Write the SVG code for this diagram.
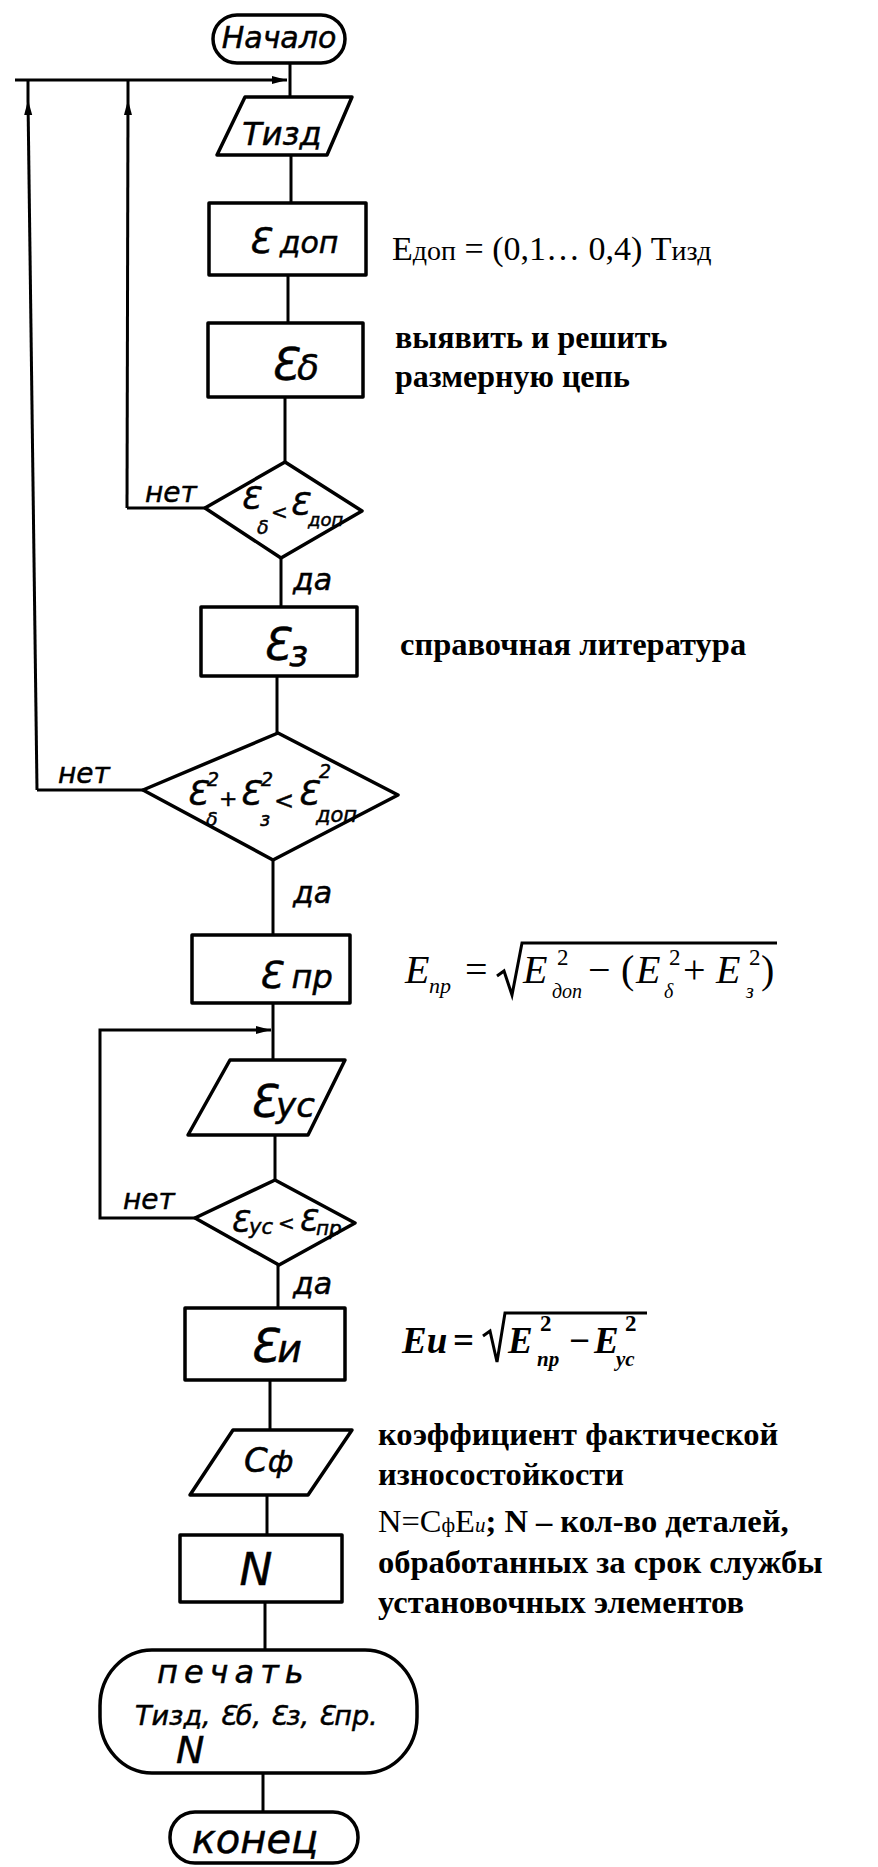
<svg xmlns="http://www.w3.org/2000/svg" width="878" height="1867" viewBox="0 0 878 1867">
<style>
.ln{stroke:#000;stroke-width:3;fill:none}
.sh{stroke:#000;stroke-width:3.5;fill:#fff;stroke-linejoin:round}
.hw{font-family:"DejaVu Sans","Liberation Sans",sans-serif;font-style:italic;fill:#000;stroke:#000;stroke-width:0.5}
.sr{font-family:"Liberation Serif","Times New Roman",serif;fill:#000}
.b{font-weight:bold}
.it{font-style:italic}
.up{font-style:normal}
</style>
<defs>
<marker id="ah" markerWidth="16" markerHeight="10" refX="15" refY="5" orient="auto" markerUnits="userSpaceOnUse"><path d="M0,1 L15,5 L0,9 z" fill="#000"/></marker>
</defs>
<rect width="878" height="1867" fill="#fff"/>

<g id="connectors">
<path class="ln" d="M290,63 V97"/>
<path class="ln" d="M15,80 H287" marker-end="url(#ah)"/>
<path class="ln" d="M37,790 L28,100" marker-end="url(#ah)"/>
<path class="ln" d="M28,100 V80"/>
<path class="ln" d="M127,508 L128,100" marker-end="url(#ah)"/>
<path class="ln" d="M128,100 V80"/>
<path class="ln" d="M205,508 H127"/>
<path class="ln" d="M143,790 H37"/>
<path class="ln" d="M291,155 V203"/>
<path class="ln" d="M288,275 V323"/>
<path class="ln" d="M285,397 V462"/>
<path class="ln" d="M281,558 V607"/>
<path class="ln" d="M277,676 V733"/>
<path class="ln" d="M273,860 V935"/>
<path class="ln" d="M273,1003 V1060"/>
<path class="ln" d="M195,1218 H100 V1030 H271" marker-end="url(#ah)"/>
<path class="ln" d="M275,1135 V1180"/>
<path class="ln" d="M278,1265 V1308"/>
<path class="ln" d="M270,1380 V1430"/>
<path class="ln" d="M267,1495 V1535"/>
<path class="ln" d="M265,1602 V1650"/>
<path class="ln" d="M263,1773 V1812"/>
</g>

<g id="labels">
<text class="hw" font-size="28" x="145" y="502">нет</text>
<text class="hw" font-size="28" x="58" y="783">нет</text>
<text class="hw" font-size="28" x="123" y="1209">нет</text>
<text class="hw" font-size="30" x="293" y="590">да</text>
<text class="hw" font-size="30" x="293" y="903">да</text>
<text class="hw" font-size="30" x="293" y="1294">да</text>
</g>

<g id="n-start">
<rect class="sh" x="213" y="15" width="132" height="48" rx="24"/>
<text class="hw" font-size="30" x="279" y="48" text-anchor="middle">Начало</text>
</g>

<g id="n-tizd">
<polygon class="sh" points="245,97 352,97 327,155 217,155"/>
<text class="hw" font-size="32" x="282" y="145" text-anchor="middle">Тизд</text>
</g>

<g id="n-edop">
<rect class="sh" x="209" y="203" width="157" height="72"/>
<text class="hw" x="248" y="253"><tspan font-size="36">Ɛ</tspan><tspan font-size="30"> доп</tspan></text>
</g>
<g id="t-edop">
<text class="sr" x="392" y="260" font-size="34">E<tspan font-size="28">доп</tspan> = (0,1… 0,4) T<tspan font-size="28">изд</tspan></text>
</g>

<g id="n-eb">
<rect class="sh" x="208" y="323" width="155" height="74"/>
<text class="hw" x="270" y="380"><tspan font-size="44">Ɛ</tspan><tspan font-size="36">δ</tspan></text>
</g>
<g id="t-eb">
<text class="sr b" font-size="32" x="395" y="348">выявить и решить</text>
<text class="sr b" font-size="32" x="395" y="387">размерную цепь</text>
</g>

<g id="d1">
<polygon class="sh" points="285,462 362,511 281,558 205,508"/>
<text class="hw" font-size="32"><tspan x="240" y="509">Ɛ</tspan><tspan x="257" y="534" font-size="19">δ</tspan><tspan x="271" y="519" font-size="20">&lt;</tspan><tspan x="289" y="515">Ɛ</tspan><tspan x="308" y="526" font-size="18">доп</tspan></text>
</g>

<g id="n-ez">
<rect class="sh" x="201" y="607" width="156" height="69"/>
<text class="hw" x="262" y="660"><tspan font-size="44">Ɛ</tspan><tspan font-size="36" dy="6">з</tspan></text>
</g>
<g id="t-ez">
<text class="sr b" font-size="32.5" x="400" y="655">справочная литература</text>
</g>

<g id="d2">
<polygon class="sh" points="278,733 398,795 273,860 143,790"/>
<text class="hw" font-size="34"><tspan x="186" y="805">Ɛ</tspan><tspan x="207" y="786" font-size="19">2</tspan><tspan x="206" y="826" font-size="19">δ</tspan><tspan x="219" y="806" font-size="22">+</tspan><tspan x="239" y="805">Ɛ</tspan><tspan x="261" y="786" font-size="19">2</tspan><tspan x="260" y="826" font-size="19">з</tspan><tspan x="274" y="809" font-size="24">&lt;</tspan><tspan x="297" y="805">Ɛ</tspan><tspan x="319" y="778" font-size="19">2</tspan><tspan x="316" y="822" font-size="21">доп</tspan></text>
</g>

<g id="n-enp">
<rect class="sh" x="192" y="935" width="158" height="68"/>
<text class="hw" x="258" y="988"><tspan font-size="38">Ɛ</tspan><tspan font-size="32"> пр</tspan></text>
</g>
<g id="t-enp">
<text class="sr it" font-size="40"><tspan x="405" y="983">E</tspan><tspan x="429" y="993" font-size="22">пр</tspan><tspan class="up" x="465" y="983">=</tspan><tspan x="523" y="983">E</tspan><tspan class="up" x="557" y="965" font-size="23">2</tspan><tspan x="552" y="998" font-size="20">доп</tspan><tspan class="up" x="588" y="983">−</tspan><tspan class="up" x="621" y="983">(</tspan><tspan x="636" y="983">E</tspan><tspan class="up" x="669" y="965" font-size="23">2</tspan><tspan x="664" y="998" font-size="20">δ</tspan><tspan class="up" x="683" y="983">+</tspan><tspan x="716" y="983">E</tspan><tspan class="up" x="749" y="965" font-size="23">2</tspan><tspan x="746" y="998" font-size="20">з</tspan><tspan class="up" x="761" y="983">)</tspan></text>
<path class="ln" stroke-width="2" d="M497,976 L504,971 L512,995 L522,943 H777"/>
</g>

<g id="n-eyc">
<polygon class="sh" points="230,1060 345,1060 308,1135 188,1135"/>
<text class="hw" x="249" y="1117"><tspan font-size="44">Ɛ</tspan><tspan font-size="34">ус</tspan></text>
</g>

<g id="d3">
<polygon class="sh" points="275,1180 355,1223 279,1265 195,1218"/>
<text class="hw" font-size="30"><tspan x="230" y="1232">Ɛ</tspan><tspan x="249" y="1234" font-size="21">ус</tspan><tspan x="278" y="1230" font-size="20">&lt;</tspan><tspan x="298" y="1231">Ɛ</tspan><tspan x="316" y="1235" font-size="20">пр</tspan></text>
</g>

<g id="n-eu">
<rect class="sh" x="185" y="1308" width="160" height="72"/>
<text class="hw" x="249" y="1362"><tspan font-size="46">Ɛ</tspan><tspan font-size="38">и</tspan></text>
</g>
<g id="t-eu">
<text class="sr it b" font-size="37"><tspan x="402" y="1353">Eu</tspan><tspan class="up" x="453" y="1353">=</tspan><tspan x="508" y="1353">E</tspan><tspan class="up" x="540" y="1331" font-size="23">2</tspan><tspan x="537" y="1366" font-size="21">пр</tspan><tspan class="up" x="569" y="1353">−</tspan><tspan x="594" y="1353">E</tspan><tspan class="up" x="625" y="1331" font-size="23">2</tspan><tspan x="616" y="1366" font-size="21">ус</tspan></text>
<path class="ln" stroke-width="2.5" d="M483,1336 L490,1331 L497,1362 L505,1313 H647"/>
</g>

<g id="n-cf">
<polygon class="sh" points="233,1430 352,1430 308,1495 190,1495"/>
<text class="hw" x="244" y="1472"><tspan font-size="34">С</tspan><tspan font-size="30">ф</tspan></text>
</g>
<g id="t-cf">
<text class="sr b" font-size="32.5" x="378" y="1445">коэффициент фактической</text>
<text class="sr b" font-size="32.5" x="378" y="1485">износостойкости</text>
</g>

<g id="n-n">
<rect class="sh" x="180" y="1535" width="162" height="67"/>
<text class="hw" font-size="44" x="256" y="1585" text-anchor="middle">N</text>
</g>
<g id="t-n">
<text class="sr b" font-size="32.5" x="378" y="1532"><tspan font-weight="normal">N=C</tspan><tspan font-weight="normal" font-size="21">ф</tspan><tspan font-weight="normal">E</tspan><tspan font-weight="normal" font-style="italic" font-size="21">u</tspan>; N – кол-во деталей,</text>
<text class="sr b" font-size="32.5" x="378" y="1573">обработанных за срок службы</text>
<text class="sr b" font-size="32.5" x="378" y="1613">установочных элементов</text>
</g>

<g id="n-print">
<rect class="sh" x="100" y="1650" width="317" height="123" rx="52" ry="56"/>
<text class="hw" font-size="32" x="157" y="1683" letter-spacing="6">печать</text>
<text class="hw" font-size="27" x="135" y="1725">Тизд, Ɛб, Ɛз, Ɛпр.</text>
<text class="hw" font-size="38" x="176" y="1763">N</text>
</g>

<g id="n-end">
<rect class="sh" x="170" y="1812" width="188" height="51" rx="25"/>
<text class="hw" font-size="40" x="255" y="1853" text-anchor="middle">конец</text>
</g>
</svg>
